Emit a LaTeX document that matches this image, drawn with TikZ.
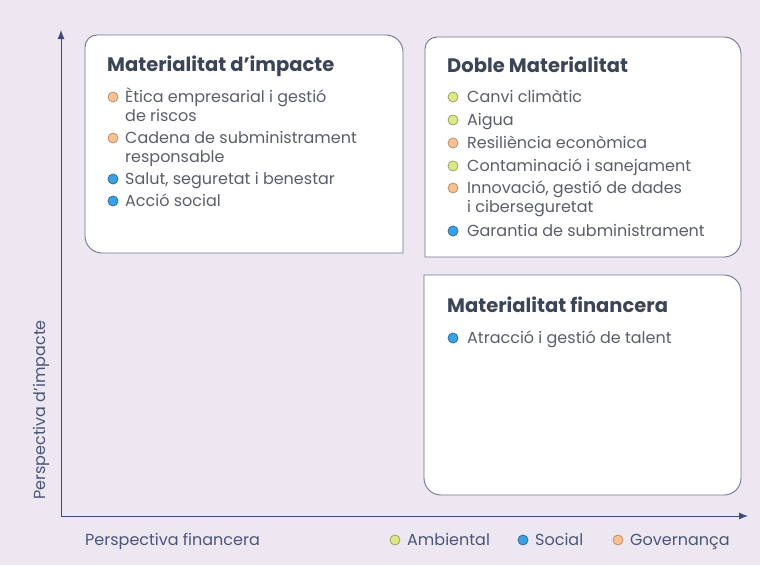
\documentclass[tikz,border=0pt]{standalone}
\usepackage{fontspec}
\setmainfont{Poppins}
\usetikzlibrary{arrows.meta}
\definecolor{bgc}{HTML}{EDE7F1}
\definecolor{axisc}{HTML}{3E4A78}
\definecolor{boxline}{HTML}{70758C}
\definecolor{titlec}{HTML}{3B4556}
\definecolor{txtc}{HTML}{5A5E6A}
\definecolor{envf}{HTML}{DDE888}\definecolor{envd}{HTML}{9EA45A}
\definecolor{socf}{HTML}{3AA2E2}\definecolor{socd}{HTML}{2C6CA6}
\definecolor{govf}{HTML}{F6C294}\definecolor{govd}{HTML}{C08E66}
\tikzset{
  quad/.style={draw=boxline, line width=0.9pt, fill=white},
  ttl/.style={anchor=base west, inner sep=0pt, text=titlec, font=\fontsize{19.5}{22}\selectfont\bfseries},
  item/.style={anchor=base west, inner sep=0pt, text=txtc, align=left, font=\fontsize{16}{19}\selectfont},
  axlbl/.style={inner sep=0pt, text=axisc!80!gray, font=\fontsize{16}{18}\selectfont},
  dotenv/.style={circle, inner sep=0pt, minimum size=10pt, fill=envf, draw=envd, line width=0.8pt},
  dotsoc/.style={circle, inner sep=0pt, minimum size=10pt, fill=socf, draw=socd, line width=0.8pt},
  dotgov/.style={circle, inner sep=0pt, minimum size=10pt, fill=govf, draw=govd, line width=0.8pt},
  axis/.style={draw=axisc, line width=1pt, -{Latex[length=9pt,width=7pt]}}
}
\begin{document}
\begin{tikzpicture}[x=1pt,y=-1pt]
\fill[bgc] (0,0) rectangle (760,565);
\useasboundingbox (0,0) rectangle (760,565);
% axes
\coordinate (o) at (61,516);
\coordinate (ytip) at (61,30);
\coordinate (xtip) at (748,516);
\draw[axis] (o) -- (ytip);
\draw[axis] (o) -- (xtip);
\node[axlbl, rotate=90] (ylab) at (41,410) {Perspectiva d'impacte};
\node[axlbl, anchor=base west] (xlab) at (85,545) {Perspectiva financera};
% legend
\node[dotenv] (lg1) at (395,540) {};
\node[axlbl, anchor=base west] (lt1) at (407,545) {Ambiental};
\node[dotsoc] (lg2) at (523,540) {};
\node[axlbl, anchor=base west] (lt2) at (535,545) {Social};
\node[dotgov] (lg3) at (618,540) {};
\node[axlbl, anchor=base west] (lt3) at (630,545) {Governança};
% box 1 : TL 12, TR 17, BR sharp, BL 17
\path[quad] (85,140) [rounded corners=12pt] -- (85,35) -- (240,35)
  [rounded corners=17pt] -- (403,35) -- (403,140)
  [sharp corners] -- (403,253) -- (240,253)
  [rounded corners=17pt] -- (85,253) -- cycle;
\node[ttl] (t1) at (107,71) {Materialitat d'impacte};
\node[dotgov] (b11) at (113,97) {};
\node[item] (i11) at (125,121) {Ètica empresarial i gestió\\de riscos};
\node[dotgov] (b12) at (113,138) {};
\node[item] (i12) at (125,162) {Cadena de subministrament\\responsable};
\node[dotsoc] (b13) at (113,179) {};
\node[item] (i13) at (125,184) {Salut, seguretat i benestar};
\node[dotsoc] (b14) at (113,201) {};
\node[item] (i14) at (125,206) {Acció social};
% box 2 : TL 12, TR 17, BR 17, BL sharp
\path[quad] (425,140) [rounded corners=12pt] -- (425,37) -- (580,37)
  [rounded corners=17pt] -- (741,37) -- (741,140) -- (741,257) -- (580,257)
  [sharp corners] -- (425,257) -- cycle;
\node[ttl] (t2) at (447,72) {Doble Materialitat};
\node[dotenv] (b21) at (453,97) {};
\node[item] (i21) at (467,102) {Canvi climàtic};
\node[dotenv] (b22) at (453,120) {};
\node[item] (i22) at (467,125) {Aigua};
\node[dotgov] (b23) at (453,143) {};
\node[item] (i23) at (467,148) {Resiliència econòmica};
\node[dotenv] (b24) at (453,166) {};
\node[item] (i24) at (467,171) {Contaminació i sanejament};
\node[dotgov] (b25) at (453,188) {};
\node[item] (i25) at (467,212) {Innovació, gestió de dades\\i ciberseguretat};
\node[dotsoc] (b26) at (453,231) {};
\node[item] (i26) at (467,236) {Garantia de subministrament};
% box 3 : TL sharp, others 17
\path[quad] (580,275) [rounded corners=17pt] -- (741,275) -- (741,495) -- (424,495) -- (424,380)
  [sharp corners] -- (424,275) -- cycle;
\node[ttl] (t3) at (447,312) {Materialitat financera};
\node[dotsoc] (b31) at (453,338) {};
\node[item] (i31) at (467,343) {Atracció i gestió de talent};
\end{tikzpicture}
\end{document}
